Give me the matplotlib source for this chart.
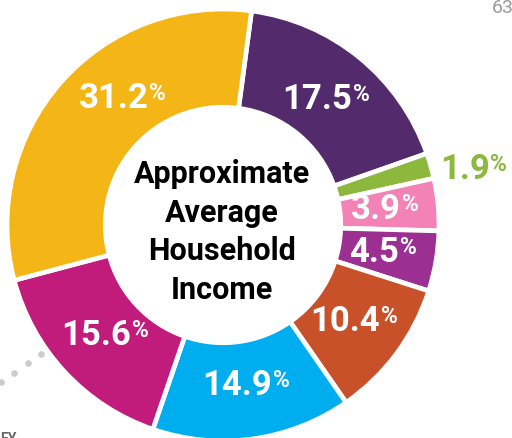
import numpy as np
import matplotlib.pyplot as plt

# slices, clockwise from the top
labels = ['17.5%', '1.9%', '3.9%', '4.5%', '10.4%', '14.9%', '15.6%', '31.2%']
shares = [17.5, 1.9, 3.9, 4.5, 10.4, 14.9, 15.6, 31.2]
colors = ['#532A6B', '#8DB83E', '#F383B6', '#9C2F92', '#C8512A', '#00AEEF', '#C11C7B', '#F4B516']
center_title = 'Approximate\nAverage\nHousehold\nIncome'

font = 'Roboto'

fig = plt.figure(figsize=(5.12, 4.38), dpi=100)
ax = fig.add_axes([0, 0, 1, 1])

cx, cy, R = 223, -225, 216
wedges, _ = ax.pie(shares, colors=colors, startangle=82.4, counterclock=False,
                   center=(cx, cy), radius=R, frame=True,
                   wedgeprops=dict(width=R * 0.455, edgecolor='white', linewidth=3.4))
ax.set_xlim(0, 512)
ax.set_ylim(-438, 0)
ax.set_aspect('equal')
ax.axis('off')

fig.canvas.draw()
rend = fig.canvas.get_renderer()


def pct_label(x, y, txt, color, size):
    num = ax.text(x, y, txt[:-1], ha='right', va='center', fontsize=size,
                  fontweight='bold', color=color, family=font)
    pc = ax.text(x + 1, y + size * 0.2, '%', ha='left', va='center', fontsize=size * 0.66,
                 fontweight='bold', color=color, family=font)
    w1 = num.get_window_extent(rend).width
    w2 = pc.get_window_extent(rend).width
    shift = (w1 - w2) / 2
    num.set_x(x + shift)
    pc.set_x(x + shift + 1)


nudge = {'31.2%': -10, '1.9%': -3.5}
for w, lab, col in zip(wedges, labels, colors):
    mid = (w.theta1 + w.theta2) / 2 + nudge.get(lab, 0)
    if lab == '1.9%':
        r, tc = 256, col
    else:
        r, tc = 162, 'white'
    x = cx + r * np.cos(np.radians(mid))
    y = cy + r * np.sin(np.radians(mid))
    pct_label(x, y, lab, tc, 25)

ax.text(cx - 1, cy - 7, center_title, ha='center', va='center', fontsize=22,
        fontweight='bold', family=font, linespacing=1.36, color='black')

# page decorations cut by the crop
ax.text(492, -13, '63', fontsize=14, color='#9A9A9A', family=font, va='baseline')
ax.text(0, -432, 'EY', fontsize=10, color='#666666', family=font, va='top', fontweight='bold')
dots_x = [1, 14, 28, 41]
dots_y = [-382, -373, -363, -354]
ax.scatter(dots_x, dots_y, s=14, color='#CCCCCC', zorder=0)

fig.savefig('out.png', dpi=100)
